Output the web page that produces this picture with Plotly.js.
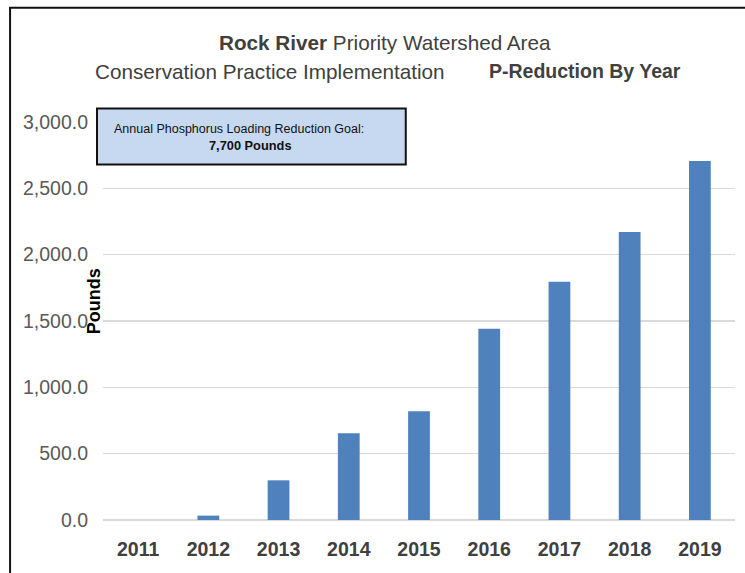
<!DOCTYPE html>
<html>
<head>
<meta charset="utf-8">
<script src="https://cdn.plot.ly/plotly-3.0.1.min.js"></script>
<style>
html,body{margin:0;padding:0;background:#fff;}
#chart{width:745px;height:573px;}
</style>
</head>
<body>
<div id="chart"></div>
<script>
const years = ['2011','2012','2013','2014','2015','2016','2017','2018','2019'];
const pReduction = [0, 33, 299, 653, 819, 1441, 1795, 2171, 2706];
const yTicks = [0, 500, 1000, 1500, 2000, 2500, 3000];
const titleLine1Bold = 'Rock River';
const titleLine1 = ' Priority Watershed Area';
const titleLine2 = 'Conservation Practice Implementation';
const titleLine2Bold = 'P-Reduction By Year';
const goalText = 'Annual Phosphorus Loading Reduction Goal:';
const goalValue = '7,700 Pounds';
const yTitle = 'Pounds';

const sans = '"Liberation Sans", Arial, sans-serif';
const W = 745, H = 573;
const L = 102.5, R = 10, T = 122, B = 52.5;
const pw = W - L - R, ph = H - T - B;
const px = v => (v - L) / pw;
const py = v => (H - B - v) / ph;

const trace = {
  type: 'bar',
  x: years,
  y: pReduction,
  marker: {color: '#4f81bd'},
  hoverinfo: 'x+y'
};

const layout = {
  width: W, height: H,
  margin: {l: L, r: R, t: T, b: B, pad: 0},
  paper_bgcolor: '#ffffff',
  plot_bgcolor: '#ffffff',
  showlegend: false,
  bargap: 0.69,
  xaxis: {
    type: 'category',
    showgrid: false,
    showline: false,
    zeroline: false,
    ticks: '',
    ticklabelstandoff: 15,
    tickfont: {family: sans, size: 19.5, color: '#404040', weight: 'bold'}
  },
  yaxis: {
    range: [0, 3000],
    tickvals: yTicks,
    tickformat: ',.1f',
    showgrid: true,
    gridcolor: '#d9d9d9',
    gridwidth: 1.5,
    zeroline: true,
    zerolinecolor: '#d9d9d9',
    zerolinewidth: 1.5,
    showline: false,
    ticks: '',
    ticklabelstandoff: 14,
    tickfont: {family: sans, size: 19.5, color: '#595959'}
  },
  shapes: [
    {type: 'line', xref: 'paper', yref: 'paper', x0: px(9.5), x1: px(9.5), y0: py(575), y1: py(7.5),
     line: {color: '#111', width: 2}},
    {type: 'line', xref: 'paper', yref: 'paper', x0: px(8.5), x1: px(750), y0: py(7.5), y1: py(7.5),
     line: {color: '#111', width: 2}},
    {type: 'rect', xref: 'paper', yref: 'paper', x0: px(96.5), x1: px(405.5), y0: py(108.5), y1: py(164.5),
     fillcolor: '#c6d9f1', line: {color: '#111', width: 2}, layer: 'above'}
  ],
  annotations: [
    {xref: 'paper', yref: 'paper', x: px(385), y: py(42), xanchor: 'center', yanchor: 'middle', showarrow: false,
     text: '<b>' + titleLine1Bold + '</b>' + titleLine1,
     font: {family: sans, size: 20.7, color: '#404040'}},
    {xref: 'paper', yref: 'paper', x: px(270), y: py(71), xanchor: 'center', yanchor: 'middle', showarrow: false,
     text: titleLine2,
     font: {family: sans, size: 20.7, color: '#404040'}},
    {xref: 'paper', yref: 'paper', x: px(584.5), y: py(71), xanchor: 'center', yanchor: 'middle', showarrow: false,
     text: '<b>' + titleLine2Bold + '</b>',
     font: {family: sans, size: 19.5, color: '#404040'}},
    {xref: 'paper', yref: 'paper', x: px(112), y: py(129), xanchor: 'left', yanchor: 'middle', showarrow: false,
     text: goalText,
     font: {family: sans, size: 12.5, color: '#111'}},
    {xref: 'paper', yref: 'paper', x: px(250), y: py(146), xanchor: 'center', yanchor: 'middle', showarrow: false,
     text: '<b>' + goalValue + '</b>',
     font: {family: sans, size: 12.8, color: '#111'}},
    {xref: 'paper', yref: 'paper', x: px(93), y: py(302), xanchor: 'center', yanchor: 'middle', showarrow: false,
     textangle: -90,
     text: '<b>' + yTitle + '</b>',
     font: {family: sans, size: 18, color: '#000'}}
  ]
};

Plotly.newPlot('chart', [trace], layout, {displayModeBar: false, staticPlot: true});
</script>
</body>
</html>
